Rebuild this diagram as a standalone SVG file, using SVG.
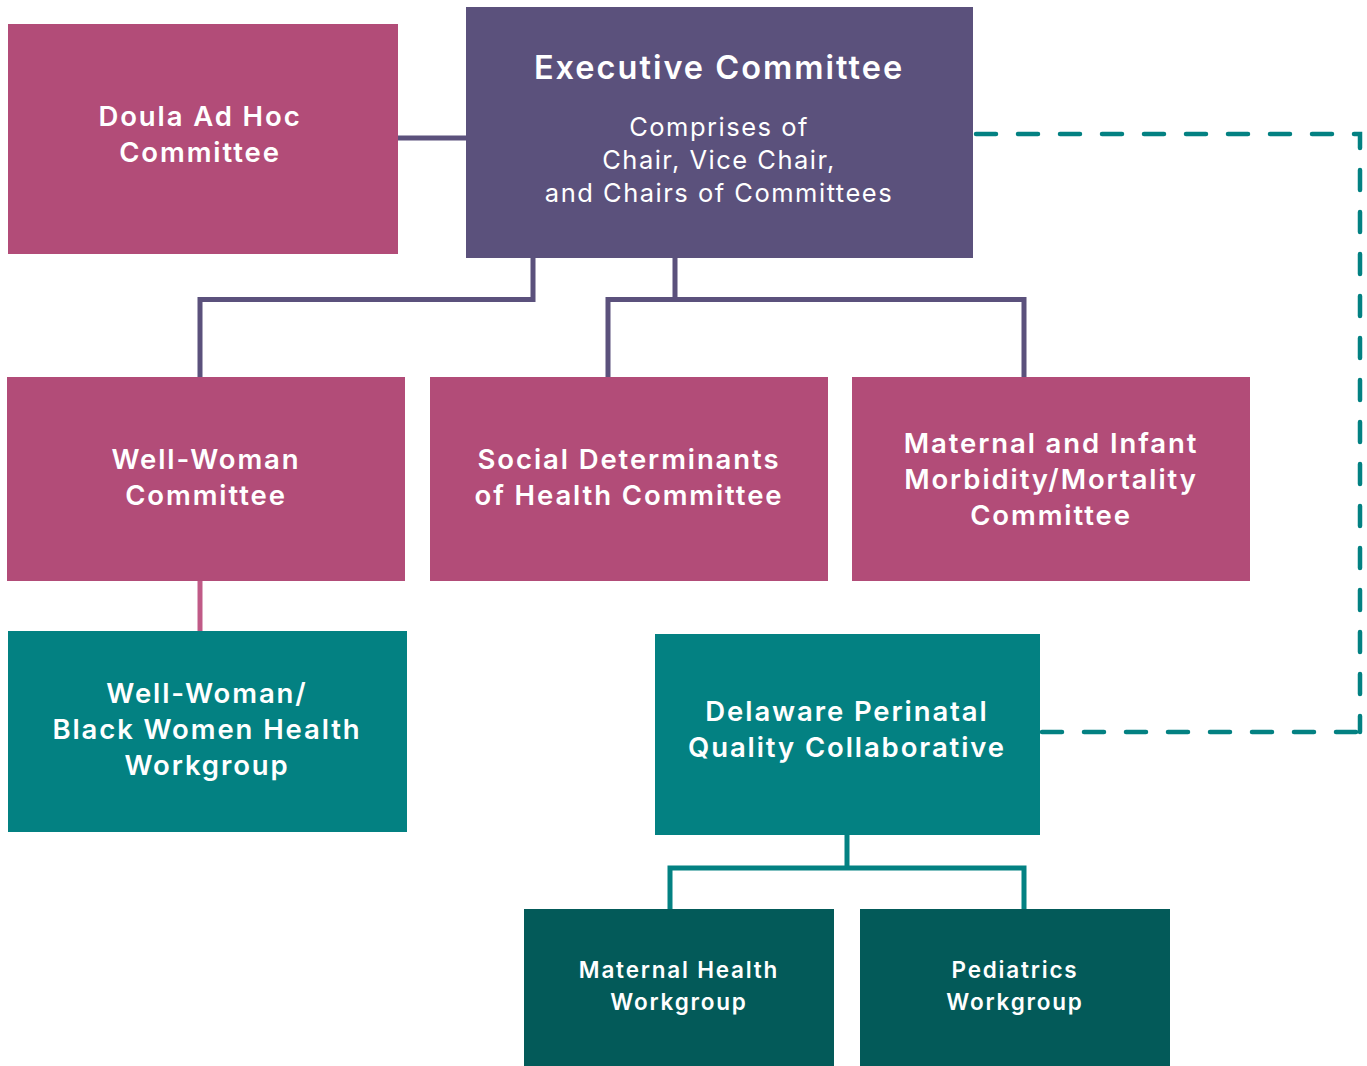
<svg xmlns="http://www.w3.org/2000/svg" width="1367" height="1066" viewBox="0 0 1367 1066">
<style>
.pink{fill:#b24c78}.purple{fill:#5b517c}.teal{fill:#038182}.dteal{fill:#035a59}
text{fill:#fff;font-family:Inter,"Open Sans","Liberation Sans",sans-serif;text-anchor:middle}
.t{font-weight:600;font-size:27.5px;letter-spacing:1.9px}
.h{font-weight:600;font-size:32.5px;letter-spacing:2px}
.r{font-weight:400;font-size:25.5px;letter-spacing:1.5px}
.s{font-weight:600;font-size:22.5px;letter-spacing:1.8px}
.c{fill:none;stroke-width:5}
.d{fill:none;stroke:#038182;stroke-width:4.5;stroke-linecap:round;stroke-dasharray:20 22}
</style>
<rect width="1367" height="1066" fill="#fff"/>
<g id="connectors">
<path class="c" stroke="#5b517c" d="M398 138H466"/>
<path class="c" stroke="#5b517c" d="M533 258V299.5H200V377"/>
<path class="c" stroke="#5b517c" d="M675 258V299.5M608 377V299.5H1024V377"/>
<path class="c" stroke="#c05a87" d="M200 581V631"/>
<path class="c" stroke="#038182" d="M847 835V868M670 909V868H1024V909"/>
<path class="d" d="M976 134H1360V732"/>
<path class="d" d="M1042 732H1360"/>
</g>
<g id="doula"><rect class="pink" x="8" y="24" width="390" height="230"/>
<text class="t" x="200" y="126">Doula Ad Hoc</text><text class="t" x="200" y="162">Committee</text></g>
<g id="exec"><rect class="purple" x="466" y="7" width="507" height="251"/>
<text class="h" x="719" y="79">Executive Committee</text>
<text class="r" x="719" y="136">Comprises of</text>
<text class="r" x="719" y="169">Chair, Vice Chair,</text>
<text class="r" x="719" y="202">and Chairs of Committees</text></g>
<g id="wellwoman"><rect class="pink" x="7" y="377" width="398" height="204"/>
<text class="t" x="206" y="469">Well-Woman</text><text class="t" x="206" y="505">Committee</text></g>
<g id="social"><rect class="pink" x="430" y="377" width="398" height="204"/>
<text class="t" x="629" y="469">Social Determinants</text><text class="t" x="629" y="505">of Health Committee</text></g>
<g id="maternal"><rect class="pink" x="852" y="377" width="398" height="204"/>
<text class="t" x="1051" y="453">Maternal and Infant</text><text class="t" x="1051" y="489">Morbidity/Mortality</text><text class="t" x="1051" y="525">Committee</text></g>
<g id="bwh"><rect class="teal" x="8" y="631" width="399" height="201"/>
<text class="t" x="207" y="703">Well-Woman/</text><text class="t" x="207" y="739">Black Women Health</text><text class="t" x="207" y="775">Workgroup</text></g>
<g id="dpqc"><rect class="teal" x="655" y="634" width="385" height="201"/>
<text class="t" x="847" y="721">Delaware Perinatal</text><text class="t" x="847" y="757">Quality Collaborative</text></g>
<g id="mhw"><rect class="dteal" x="524" y="909" width="310" height="157"/>
<text class="s" x="679" y="978">Maternal Health</text><text class="s" x="679" y="1010">Workgroup</text></g>
<g id="ped"><rect class="dteal" x="860" y="909" width="310" height="157"/>
<text class="s" x="1015" y="978">Pediatrics</text><text class="s" x="1015" y="1010">Workgroup</text></g>
</svg>
